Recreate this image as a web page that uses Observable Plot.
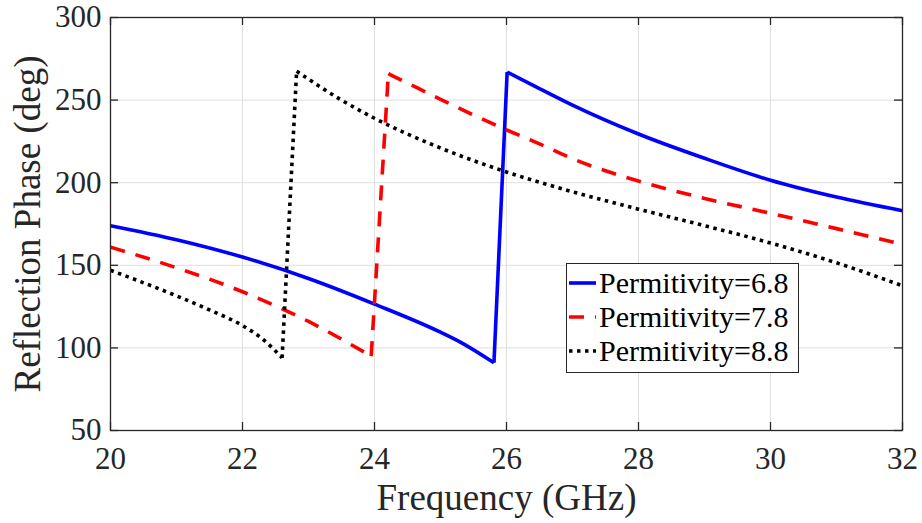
<!DOCTYPE html>
<html>
<head>
<meta charset="utf-8">
<script src="https://cdn.jsdelivr.net/npm/d3@7"></script>
<script src="https://cdn.jsdelivr.net/npm/@observablehq/plot@0.6"></script>
<style>
  html, body { margin: 0; padding: 0; background: #fff; }
  #wrap { position: relative; width: 922px; height: 523px; font-family: "Liberation Serif", "Times New Roman", serif; }
  #legend { position: absolute; left: 566px; top: 263px; width: 231px; height: 106px; border: 1px solid #262626; background: #fff; box-sizing: content-box; padding-top: 2px; }
  .item { height: 34px; display: flex; align-items: center; font-size: 30px; color: #000; white-space: nowrap; }
  .item svg { margin-left: 2px; margin-right: 3px; flex: none; }
</style>
</head>
<body>
<div id="wrap"></div>
<script>
// ---- data ----
const seriesNames = ["Permitivity=6.8", "Permitivity=7.8", "Permitivity=8.8"];
const seriesColors = ["#0000ff", "#ff0000", "#000000"];
const seriesDash = [null, "15,11", "3.5,4.5"];

const freq68  = [20, 21, 22, 23, 24, 25, 25.3, 25.81, 26.01, 26.5, 27, 28, 29, 30, 31, 32];
const phase68 = [174, 165.5, 155, 142, 126.5, 109.5, 103.5, 91, 267, 257, 247, 229.5, 214.8, 201.5, 191.3, 183];

const freq78  = [20, 21, 22, 23, 23.95, 24.21, 24.5, 25, 25.5, 26, 26.5, 27, 28, 29, 30, 31, 32];
const phase78 = [161, 148.5, 134, 116, 95, 266, 260.3, 250.5, 241, 232, 223.5, 214.5, 201, 190.5, 181.5, 172.2, 162.7];

const freq88  = [20, 21, 21.5, 22, 22.3, 22.6, 22.82, 23.5, 24, 25, 26, 27, 28, 29, 30, 31, 32];
const phase88 = [147, 131.5, 123, 113.5, 105.5, 94, 267.5, 250, 239, 221, 206.5, 194.5, 184, 174, 163.5, 151.5, 137.6];

const xTicks = [20, 22, 24, 26, 28, 30, 32];
const yTicks = [50, 100, 150, 200, 250, 300];
const xLabel = "Frequency (GHz)";
const yLabel = "Reflection Phase (deg)";

// ---- build tables ----
const freqs = [freq68, freq78, freq88];
const phases = [phase68, phase78, phase88];
const tables = seriesNames.map((name, i) => {
  const pts = freqs[i].map((f, j) => ({series: name, f, p: phases[i][j]}));
  // the jump: first index where the phase rises
  const k = pts.findIndex((d, j) => j + 1 < pts.length && pts[j + 1].p > d.p);
  return {pre: pts.slice(0, k + 1), jump: pts.slice(k, k + 2), post: pts.slice(k + 1)};
});

const W = 922, H = 523;
const mL = 110, mR = 20, mT = 17, mB = 93;
const frameW = W - mL - mR, frameH = H - mT - mB;
const tickLen = 8;
const axisColor = "#262626";
const gridColor = "#dfdfdf";

const lineMarks = tables.flatMap((t, i) => {
  const style = {
    x: "f", y: "p",
    stroke: seriesColors[i],
    strokeWidth: 3.6,
    strokeDasharray: seriesDash[i] ?? undefined,
    strokeLinejoin: "miter",
    strokeLinecap: "butt"
  };
  return [
    Plot.line(t.pre, {...style, curve: "monotone-x"}),
    Plot.line(t.jump, {...style, curve: "linear"}),
    Plot.line(t.post, {...style, curve: "monotone-x"})
  ];
});

const chart = Plot.plot({
  width: W, height: H,
  marginLeft: mL, marginRight: mR, marginTop: mT, marginBottom: mB,
  style: {fontFamily: "Liberation Serif, Times New Roman, serif", background: "#fff", overflow: "visible"},
  x: {domain: [20, 32], axis: null},
  y: {domain: [50, 300], axis: null},
  marks: [
    Plot.ruleX(xTicks, {x: d => d, stroke: gridColor, strokeWidth: 1}),
    Plot.ruleY(yTicks, {y: d => d, stroke: gridColor, strokeWidth: 1}),
    ...lineMarks,
    Plot.frame({stroke: axisColor, strokeWidth: 1.3}),
    // inward ticks on all four sides
    Plot.tickX(xTicks, {x: d => d, insetTop: frameH - tickLen, stroke: axisColor, strokeWidth: 1.3}),
    Plot.tickX(xTicks, {x: d => d, insetBottom: frameH - tickLen, stroke: axisColor, strokeWidth: 1.3}),
    Plot.tickY(yTicks, {y: d => d, insetRight: frameW - tickLen, stroke: axisColor, strokeWidth: 1.3}),
    Plot.tickY(yTicks, {y: d => d, insetLeft: frameW - tickLen, stroke: axisColor, strokeWidth: 1.3}),
    // tick labels
    Plot.text(xTicks, {x: d => d, frameAnchor: "bottom", dy: 29, text: d => String(d), fontSize: 31, fill: axisColor, textAnchor: "middle", lineAnchor: "middle"}),
    Plot.text(yTicks, {y: d => d, frameAnchor: "left", dx: -9, text: d => String(d), fontSize: 31, fill: axisColor, textAnchor: "end", lineAnchor: "middle"}),
    // axis titles
    Plot.text([xLabel], {frameAnchor: "bottom", dy: 68, text: d => d, fontSize: 37, fill: axisColor, textAnchor: "middle", lineAnchor: "middle"}),
    Plot.text([yLabel], {frameAnchor: "left", dx: -82, rotate: -90, text: d => d, fontSize: 37, fill: axisColor, textAnchor: "middle", lineAnchor: "middle"})
  ]
});

const wrap = document.getElementById("wrap");
wrap.appendChild(chart);

// legend (inside plot area, like the MATLAB legend box)
const legend = document.createElement("div");
legend.id = "legend";
seriesNames.forEach((name, i) => {
  const item = document.createElement("div");
  item.className = "item";
  const ns = "http://www.w3.org/2000/svg";
  const svg = document.createElementNS(ns, "svg");
  svg.setAttribute("width", 27);
  svg.setAttribute("height", 8);
  const ln = document.createElementNS(ns, "line");
  ln.setAttribute("x1", 0); ln.setAttribute("x2", 27);
  ln.setAttribute("y1", 4); ln.setAttribute("y2", 4);
  ln.setAttribute("stroke", seriesColors[i]);
  ln.setAttribute("stroke-width", 3.6);
  if (seriesDash[i]) ln.setAttribute("stroke-dasharray", seriesDash[i]);
  svg.appendChild(ln);
  item.appendChild(svg);
  const t = document.createElement("span");
  t.textContent = name;
  item.appendChild(t);
  legend.appendChild(item);
});
wrap.appendChild(legend);
</script>
</body>
</html>
